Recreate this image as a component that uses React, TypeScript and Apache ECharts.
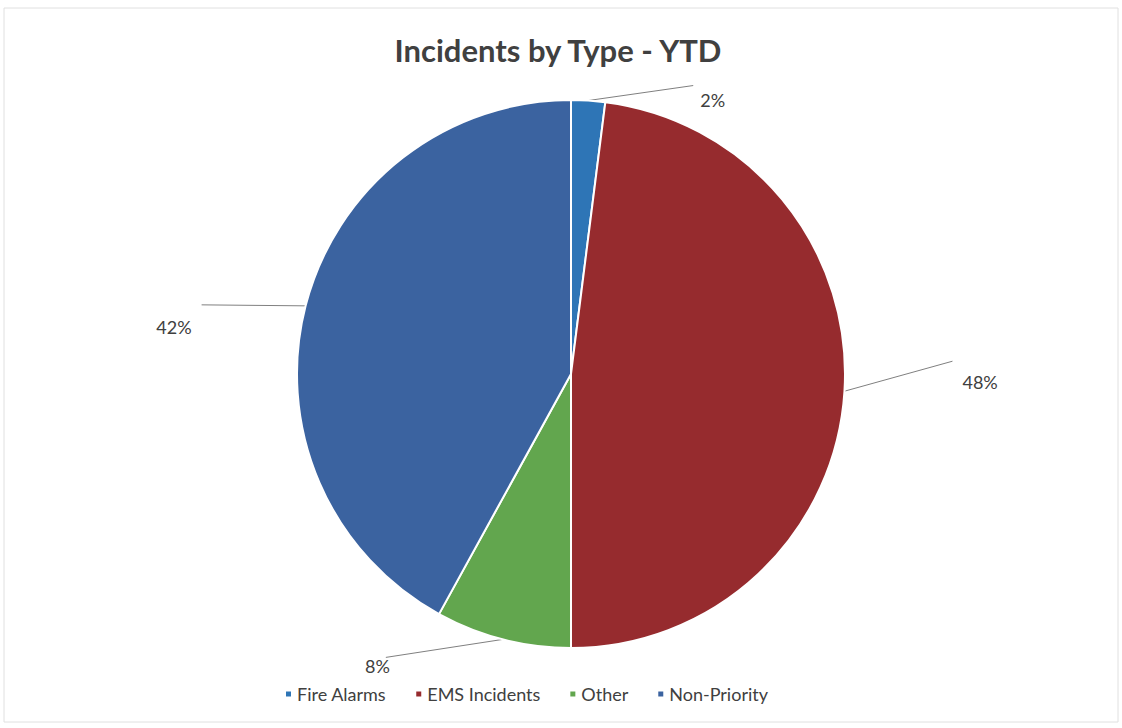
import React, { useEffect, useRef } from "react";
import * as echarts from "echarts";

const categories = ["Fire Alarms", "EMS Incidents", "Other", "Non-Priority"];
const values = [2, 48, 8, 42];
const colors = ["#2E75B6", "#962B2E", "#62A64E", "#3B63A0"];

// leader-line end offset from the slice edge, and label anchor offset from the line end
const lineEnds = [[105, -15], [108, -30], [-117, 18], [-104, -1]];
const labelOffsets = [[7, 14], [10, 21], [4, 9], [-10, 22]];

export default function App() {
  const ref = useRef<HTMLDivElement>(null);
  useEffect(() => {
    document.body.style.margin = "0";
    const chart = echarts.init(ref.current!, null, { renderer: "svg" });
    chart.setOption({
      animation: false,
      backgroundColor: "#ffffff",
      textStyle: { fontFamily: "Lato" },
      title: {
        text: "Incidents by Type - YTD",
        left: 553,
        textAlign: "center",
        top: 29,
        textStyle: { fontSize: 31, fontWeight: "bold", color: "#404040", fontFamily: "Lato" },
      },
      legend: {
        data: categories,
        bottom: 20,
        left: 279,
        icon: "rect",
        itemWidth: 7,
        itemHeight: 7,
        itemGap: 28,
        textStyle: { fontSize: 18, color: "#404040", fontFamily: "Lato" },
      },
      graphic: [
        {
          type: "rect",
          shape: { x: 4, y: 8, width: 1114, height: 714 },
          style: { fill: "none", stroke: "#e0e0e0", lineWidth: 1 },
          silent: true,
        },
      ],
      series: [
        {
          type: "pie",
          center: [571, 374],
          radius: [0, 274],
          startAngle: 90,
          clockwise: true,
          data: categories.map((c, i) => ({ name: c, value: values[i], itemStyle: { color: colors[i] } })),
          itemStyle: { borderColor: "#ffffff", borderWidth: 2 },
          label: {
            show: true,
            formatter: "{d}%",
            fontSize: 18,
            color: "#404040",
            fontFamily: "Lato",
          },
          labelLine: {
            show: true,
            length: 20,
            length2: 80,
            lineStyle: { color: "#808080", width: 1 },
          },
          labelLayout: (params: any) => {
            const i = params.dataIndex;
            const pts = params.labelLinePoints;
            if (!pts) return {};
            const p0 = pts[0];
            const end = [p0[0] + lineEnds[i][0], p0[1] + lineEnds[i][1]];
            const right = lineEnds[i][0] > 0;
            return {
              x: end[0] + labelOffsets[i][0],
              y: end[1] + labelOffsets[i][1],
              align: right ? "left" : "right",
              verticalAlign: "middle",
              labelLinePoints: [p0, end, end],
            };
          },
        },
      ],
    });
    return () => chart.dispose();
  }, []);
  return <div ref={ref} style={{ width: 1122, height: 728 }} />;
}
